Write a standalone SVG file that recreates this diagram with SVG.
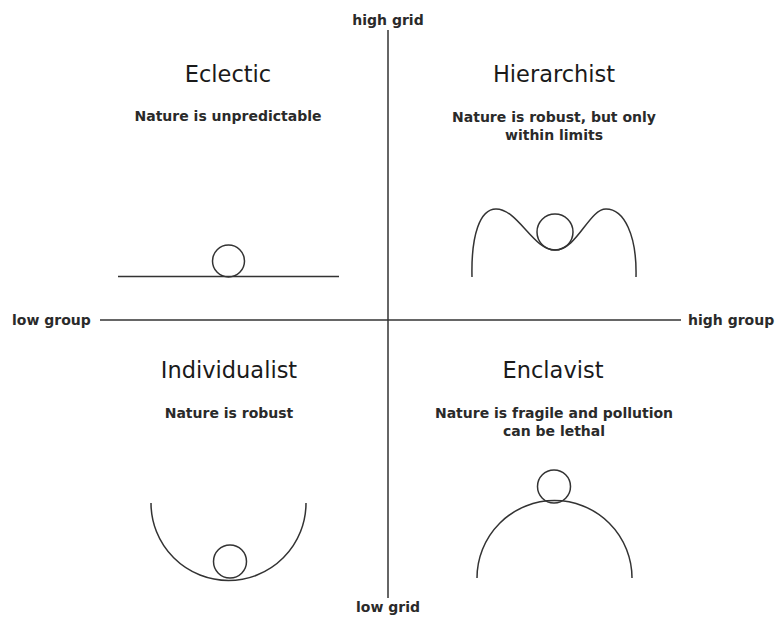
<svg xmlns="http://www.w3.org/2000/svg" width="776" height="618" viewBox="0 0 776 618">
<style>
.ln{fill:none;stroke:#333;stroke-width:1.5}
.t{font-family:"DejaVu Sans",sans-serif;font-size:22.5px;fill:#1a1a1a;text-anchor:middle}
.s{font-family:"DejaVu Sans",sans-serif;font-size:14px;font-weight:bold;fill:#2a2a2a;text-anchor:middle}
.a{font-family:"DejaVu Sans",sans-serif;font-size:14px;font-weight:bold;fill:#2a2a2a}
</style>
<rect width="776" height="618" fill="#fff"/>
<g id="axes">
<line class="ln" x1="388" y1="30" x2="388" y2="598"/>
<line class="ln" x1="100" y1="320" x2="681" y2="320"/>
<text class="a" x="388" y="25" text-anchor="middle">high grid</text>
<text class="a" x="388" y="612" text-anchor="middle">low grid</text>
<text class="a" x="12" y="325">low group</text>
<text class="a" x="688" y="325">high group</text>
</g>
<g id="eclectic">
<text class="t" x="228" y="82">Eclectic</text>
<text class="s" x="228" y="121">Nature is unpredictable</text>
<line class="ln" x1="118" y1="276.5" x2="339" y2="276.5"/>
<circle class="ln" cx="228.5" cy="261" r="16"/>
</g>
<g id="hierarchist">
<text class="t" x="554" y="82">Hierarchist</text>
<text class="s" x="554" y="122">Nature is robust, but only</text>
<text class="s" x="554" y="140">within limits</text>
<path class="ln" d="M472,277 C471,235 480,209 496,209 C518,209 533,250 555,250 C577,250 589,209 606,209 C624,209 637,235 636,277"/>
<circle class="ln" cx="555" cy="232" r="18"/>
</g>
<g id="individualist">
<text class="t" x="229" y="378">Individualist</text>
<text class="s" x="229" y="418">Nature is robust</text>
<path class="ln" d="M151,503 A77.5,77.5 0 0 0 306,503"/>
<circle class="ln" cx="230" cy="561.5" r="16.5"/>
</g>
<g id="enclavist">
<text class="t" x="553" y="378">Enclavist</text>
<text class="s" x="554" y="418">Nature is fragile and pollution</text>
<text class="s" x="554" y="436">can be lethal</text>
<path class="ln" d="M477,578 A77.5,77.5 0 0 1 632,578"/>
<circle class="ln" cx="554" cy="486.5" r="16.5"/>
</g>
</svg>
